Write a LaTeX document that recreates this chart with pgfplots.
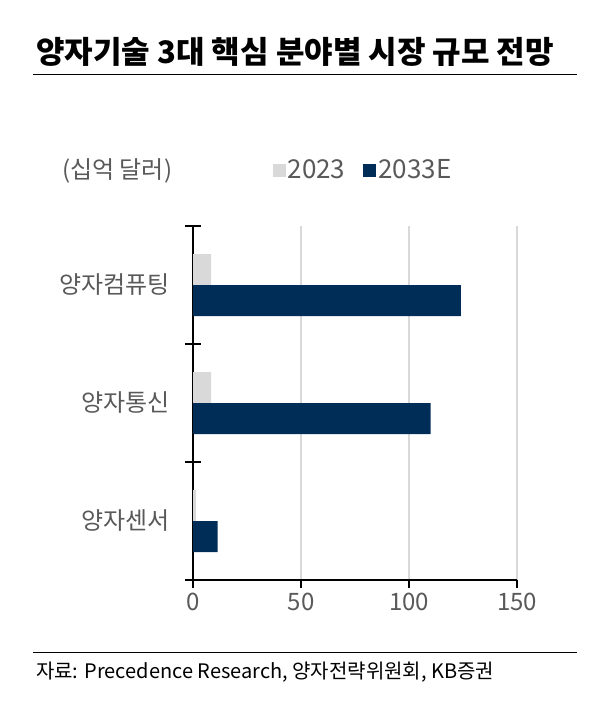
\documentclass[border=0pt]{standalone}
\usepackage{fontspec}
\setmainfont{Noto Sans CJK KR}
\usepackage{pgfplots}
\pgfplotsset{compat=1.18}

\definecolor{navy}{HTML}{002D57}
\definecolor{lgray}{HTML}{D9D9D9}
\definecolor{txtgray}{HTML}{595959}

\begin{document}
\begin{tikzpicture}
\useasboundingbox (0pt,0pt) rectangle (610pt,-713pt);

% title and rules
\node[anchor=west, inner sep=0pt, font=\fontsize{31}{31}\selectfont\bfseries] at (36pt,-52pt) {양자기술 3대 핵심 분야별 시장 규모 전망};
\draw[line width=1pt] (33pt,-74pt) -- (577pt,-74pt);
\node[anchor=west, inner sep=0pt, text=txtgray, font=\fontsize{24}{24}\selectfont] at (62pt,-171pt) {(십억 달러)};

\begin{axis}[
    at={(193pt,-580pt)}, anchor=south west,
    scale only axis, width=324pt, height=354pt,
    xbar, bar width=31pt,
    xmin=0, xmax=150,
    ymin=-0.5, ymax=2.5,
    axis x line*=bottom, axis y line*=left,
    axis line style={line width=1.8pt, black},
    xtick={0,50,100,150},
    ytick={0,1,2},
    yticklabels={양자센서,양자통신,양자컴퓨팅},
    tick align=outside, major tick length=0pt,
    tick style={line width=1.8pt, black},
    extra x ticks={0,50,100,150},
    extra x tick labels={},
    extra x tick style={tick align=outside, major tick length=8pt, grid=none},
    extra y ticks={-0.5,0.5,1.5,2.5},
    extra y tick labels={},
    extra y tick style={tick align=center, major tick length=16pt, grid=none},
    xmajorgrids, grid style={lgray, line width=1.8pt},
    /pgf/number format/assume math mode=true,
    tick label style={text=txtgray, font=\fontsize{24}{24}\selectfont},
    x tick label style={yshift=-10pt},
    y tick label style={xshift=-20pt},
    legend style={at={(0.236,1.158)}, anchor=west, draw=none, fill=none,
        legend columns=2, text=txtgray, font=\fontsize{26}{26}\selectfont,
        /tikz/every even column/.append style={column sep=16pt}},
    legend image code/.code={\fill[#1,draw=none] (0pt,-6.5pt) rectangle (13pt,6.5pt);},
]
\addplot[fill=lgray, draw=none, bar shift=15.5pt] coordinates {(1.3,0) (8.4,1) (8.4,2)};
\addplot[fill=navy, draw=none, bar shift=-15.5pt] coordinates {(11.4,0) (110,1) (124,2)};
\legend{2023, 2033E}
\end{axis}

\draw[line width=0.8pt] (33pt,-652pt) -- (577pt,-652pt);
\node[anchor=west, inner sep=0pt, font=\fontsize{20}{20}\selectfont] at (36pt,-672pt) {자료: Precedence Research, 양자전략위원회, KB증권};
\end{tikzpicture}
\end{document}
